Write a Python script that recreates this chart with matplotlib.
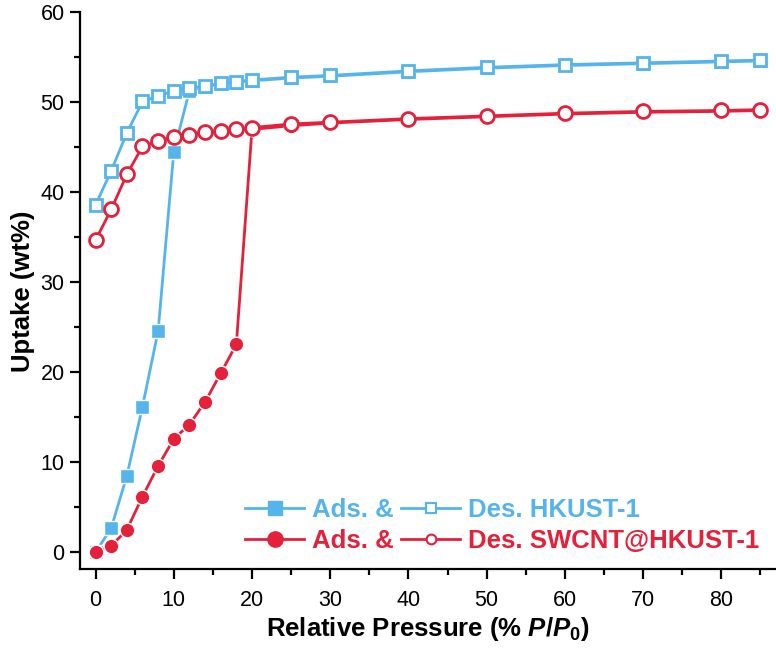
import matplotlib
matplotlib.use("Agg")
import matplotlib.pyplot as plt
from matplotlib.ticker import MultipleLocator
from matplotlib.lines import Line2D

plt.rcParams['font.family'] = ['Liberation Sans', 'DejaVu Sans']
plt.rcParams['mathtext.fontset'] = 'custom'
plt.rcParams['mathtext.rm'] = 'Liberation Sans:bold'
plt.rcParams['mathtext.it'] = 'Liberation Sans:italic:bold'
plt.rcParams['mathtext.bf'] = 'Liberation Sans:bold'

# HKUST-1
hk_ads_x = [0, 2, 4, 6, 8, 10, 12, 14, 16, 18, 20, 25, 30, 40, 50, 60, 70, 80, 85]
hk_ads_y = [0, 2.7, 8.5, 16.2, 24.6, 44.5, 51.3, 51.7, 52.0, 52.2, 52.4, 52.7, 52.9, 53.4, 53.8, 54.1, 54.3, 54.5, 54.6]
hk_des_x = [0, 2, 4, 6, 8, 10, 12, 14, 16, 18, 20, 25, 30, 40, 50, 60, 70, 80, 85]
hk_des_y = [38.6, 42.4, 46.6, 50.1, 50.7, 51.3, 51.6, 51.8, 52.1, 52.3, 52.5, 52.8, 53.0, 53.5, 53.9, 54.2, 54.4, 54.6, 54.7]

# SWCNT@HKUST-1
sw_ads_x = [0, 2, 4, 6, 8, 10, 12, 14, 16, 18, 20, 25, 30, 40, 50, 60, 70, 80, 85]
sw_ads_y = [0, 0.7, 2.5, 6.2, 9.6, 12.6, 14.2, 16.7, 19.9, 23.1, 47.0, 47.4, 47.7, 48.1, 48.4, 48.7, 48.9, 49.0, 49.1]
sw_des_x = [0, 2, 4, 6, 8, 10, 12, 14, 16, 18, 20, 25, 30, 40, 50, 60, 70, 80, 85]
sw_des_y = [34.7, 38.1, 42.0, 45.1, 45.7, 46.2, 46.4, 46.7, 46.8, 47.0, 47.2, 47.6, 47.8, 48.2, 48.5, 48.8, 49.0, 49.1, 49.2]

x_ticks = [0, 10, 20, 30, 40, 50, 60, 70, 80]
y_ticks = [0, 10, 20, 30, 40, 50, 60]

blue = '#55B4EC'
red = '#E5203A'

fig = plt.figure(figsize=(7.76, 6.53), dpi=100)
ax = fig.add_axes([0.103, 0.128, 0.897, 0.853])

lw = 2.0
ax.plot(hk_ads_x, hk_ads_y, '-', color=blue, lw=lw, marker='s', ms=9.5,
        mfc=blue, mec='white', mew=1.0, zorder=3)
ax.plot(hk_des_x, hk_des_y, '-', color=blue, lw=lw, marker='s', ms=9,
        mfc='white', mec=blue, mew=2.0, zorder=4)
ax.plot(sw_ads_x, sw_ads_y, '-', color=red, lw=lw, marker='o', ms=10.5,
        mfc=red, mec='white', mew=1.0, zorder=3)
ax.plot(sw_des_x, sw_des_y, '-', color=red, lw=lw, marker='o', ms=10,
        mfc='white', mec=red, mew=2.0, zorder=4)

ax.set_xlim(-2.0, 87.0)
ax.set_ylim(-1.9, 60)
ax.set_xticks(x_ticks)
ax.set_yticks(y_ticks)
ax.xaxis.set_minor_locator(MultipleLocator(5))
ax.yaxis.set_minor_locator(MultipleLocator(5))
ax.tick_params(which='major', direction='out', length=7, width=1.6, labelsize=15.5)
ax.tick_params(which='minor', direction='out', length=4.3, width=1.6)
ax.tick_params(axis='x', which='major', pad=8)
ax.tick_params(axis='y', which='major', pad=4)
for s in ['top', 'right']:
    ax.spines[s].set_visible(False)
for s in ['left', 'bottom']:
    ax.spines[s].set_linewidth(1.6)

ax.set_xlabel('Relative Pressure (% $P/P_0$)', fontsize=18.5, fontweight='bold', labelpad=3)
ax.set_ylabel('Uptake (wt%)', fontsize=18.5, fontweight='bold', labelpad=4)

lh1 = Line2D([], [], color=blue, lw=lw, marker='s', ms=10, mfc=blue, mec=blue)
lh2 = Line2D([], [], color=red, lw=lw, marker='o', ms=11, mfc=red, mec=red)
lh3 = Line2D([], [], color=blue, lw=lw, marker='s', ms=6.5, mfc='white', mec=blue, mew=1.5)
lh4 = Line2D([], [], color=red, lw=lw, marker='o', ms=7, mfc='white', mec=red, mew=1.5)
leg = ax.legend([lh1, lh2, lh3, lh4],
                ['Ads. &', 'Ads. &', 'Des. HKUST-1', 'Des. SWCNT@HKUST-1'],
                ncol=2, loc='lower right', bbox_to_anchor=(1.0, 0.0),
                frameon=False, prop={'weight': 'bold', 'size': 18.5},
                handlelength=2.3, handletextpad=0.3, columnspacing=0.3,
                labelspacing=0.28, borderaxespad=0.25)
for t, c in zip(leg.get_texts(), [blue, red, blue, red]):
    t.set_color(c)

fig.savefig('out.png', dpi=100)
